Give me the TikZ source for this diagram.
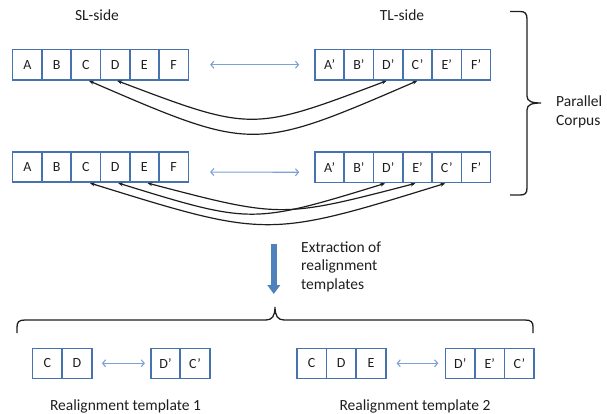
\documentclass[tikz,border=0pt]{standalone}
\usepackage{fontspec}
\setmainfont{Carlito}
\usetikzlibrary{arrows.meta,calc}
\definecolor{boxblue}{RGB}{70,115,175}
\definecolor{lightarr}{RGB}{125,160,215}
\definecolor{fatblue}{RGB}{79,129,189}
\definecolor{ink}{RGB}{30,30,30}
\tikzset{
  cell/.style={draw=boxblue, line width=1.6pt, minimum width=29.3pt, minimum height=30.5pt, inner sep=0pt, text=ink, font=\fontsize{14}{16}\selectfont},
  tcell/.style={cell, minimum width=29.6pt, minimum height=30pt},
  lbl/.style={text=ink, font=\fontsize{15.5}{18.3}\selectfont, inner sep=0pt},
  dbl/.style={draw=lightarr, line width=1.1pt, {Straight Barb[length=3pt,width=7pt]}-{Straight Barb[length=3pt,width=7pt]}},
  alnarrow/.style={draw=ink, line width=1.2pt, {Stealth[length=5pt,width=3.8pt]}-{Stealth[length=5pt,width=3.8pt]}},
  bracepath/.style={draw=ink, line width=1.3pt},
}
\begin{document}
\begin{tikzpicture}[x=1pt,y=-1pt]
\useasboundingbox (0,0) rectangle (607,414);
% labels
\node[lbl] (sl) at (97,15) {SL-side};
\node[lbl] (tl) at (402,15) {TL-side};
% row 1
\foreach \t [count=\i] in {A,B,C,D,E,F}
  \node[cell] (r1s\i) at ({12.7+29.27*(\i-0.5)},64.7) {\t};
\foreach \t [count=\i] in {A’,B’,D’,C’,E’,F’}
  \node[cell] (r1t\i) at ({315+29.28*(\i-0.5)},64.7) {\t};
% row 2
\foreach \t [count=\i] in {A,B,C,D,E,F}
  \node[cell] (r2s\i) at ({12.7+29.27*(\i-0.5)},167) {\t};
\foreach \t [count=\i] in {A’,B’,D’,E’,C’,F’}
  \node[cell] (r2t\i) at ({315+29.28*(\i-0.5)},167.3) {\t};
% double arrows
\draw[dbl, shorten <=21pt, shorten >=15pt] (r1s6.east) -- (r1t1.west);
\draw[dbl, shorten <=21pt, shorten >=15pt] ([yshift=-5pt]r2s6.east) -- ([yshift=-5pt]r2t1.west);
% alignment curves row 1
\draw[alnarrow] ([xshift=3pt]r1s3.south) .. controls ($([xshift=3pt]r1s3.south)!0.5!(r1t4.south)+(0,71)$) and ($([xshift=3pt]r1s3.south)!0.5!(r1t4.south)+(0,71)$) .. (r1t4.south);
\draw[alnarrow] ([xshift=2pt]r1s4.south) .. controls ($([xshift=2pt]r1s4.south)!0.5!([xshift=-1.5pt]r1t3.south)+(0,51)$) and ($([xshift=2pt]r1s4.south)!0.5!([xshift=-1.5pt]r1t3.south)+(0,51)$) .. ([xshift=-1.5pt]r1t3.south);
% alignment curves row 2
\draw[alnarrow] ([xshift=4pt]r2s3.south) .. controls ($([xshift=4pt]r2s3.south)!0.5!([xshift=-1.5pt]r2t5.south)+(0,55)$) and ($([xshift=4pt]r2s3.south)!0.5!([xshift=-1.5pt]r2t5.south)+(0,55)$) .. ([xshift=-1.5pt]r2t5.south);
\draw[alnarrow] ([xshift=3pt]r2s4.south) .. controls ($([xshift=3pt]r2s4.south)!0.5!([xshift=-3pt]r2t3.south)+(0,41)$) and ($([xshift=3pt]r2s4.south)!0.5!([xshift=-3pt]r2t3.south)+(0,41)$) .. ([xshift=-3pt]r2t3.south);
\draw[alnarrow] ([xshift=3pt]r2s5.south) .. controls ($([xshift=3pt]r2s5.south)!0.5!([xshift=-2pt]r2t4.south)+(0,35)$) and ($([xshift=3pt]r2s5.south)!0.5!([xshift=-2pt]r2t4.south)+(0,35)$) .. ([xshift=-2pt]r2t4.south);
% right brace
\draw[bracepath] (510,11.5) -- (520,11.5) .. controls (525,11.5) and (527,13.5) .. (527,19) -- (527,96)
  .. controls (527,101.5) and (532,103) .. (541,103)
  .. controls (532,103) and (527,104.5) .. (527,110) -- (527,188)
  .. controls (527,193.5) and (525,195) .. (520,195) -- (510,195);
\node[lbl, anchor=west, align=left] (pc) at (556,112) {Parallel\\Corpus};
% extraction arrow
\coordinate (ea) at (273.8,244.3);
\coordinate (eb) at (273.8,294);
\draw[fatblue, line width=5.7pt, -{Triangle[length=9pt,width=12.5pt]}] (ea) -- (eb);
\node[lbl, anchor=west, align=left] (ex) at (301,266.7) {Extraction of\\realignment\\templates};
% bottom brace
\draw[bracepath] (17,333) -- (17,327) .. controls (17,322) and (19,320) .. (25,320) -- (266,320)
  .. controls (272,320) and (275,316) .. (275,307)
  .. controls (275,316) and (278,320) .. (284,320) -- (525,320)
  .. controls (531,320) and (533,322) .. (533,327) -- (533,333);
% template 1
\node[tcell] (t1c) at (47.3,363.3) {C};
\node[tcell] (t1d) at (77,363.3) {D};
\node[tcell] (t1dp) at (165.5,363.3) {D’};
\node[tcell] (t1cp) at (195,363.3) {C’};
\draw[dbl, shorten <=9.3pt, shorten >=5pt] (t1d.east) -- (t1dp.west);
\node[lbl] (l1) at (125.5,406.7) {Realignment template 1};
% template 2
\node[tcell] (t2c) at (311.6,363.3) {C};
\node[tcell] (t2d) at (341.3,363.3) {D};
\node[tcell] (t2e) at (371,363.3) {E};
\node[tcell] (t2dp) at (460.3,363.3) {D’};
\node[tcell] (t2ep) at (489.7,363.3) {E’};
\node[tcell] (t2cp) at (519.3,363.3) {C’};
\draw[dbl, shorten <=10pt, shorten >=6.4pt] (t2e.east) -- (t2dp.west);
\node[lbl] (l2) at (415,406.7) {Realignment template 2};
\end{tikzpicture}
\end{document}
